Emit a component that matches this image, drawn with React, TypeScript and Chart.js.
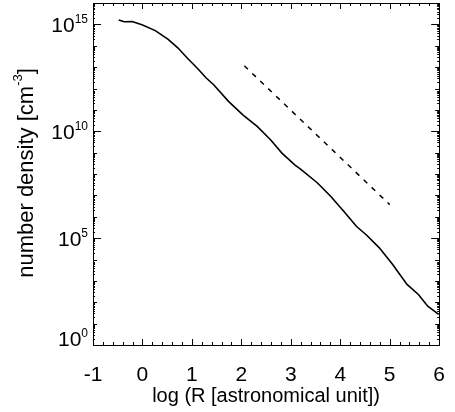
import React, { useEffect, useRef } from 'react';
import { Chart, registerables } from 'chart.js';

Chart.register(...registerables);

// log10 of radius in astronomical units
const radiusLog = [
  -0.48, -0.37, -0.21, -0.01, 0.26, 0.52, 0.72, 0.91, 1.11, 1.29, 1.44, 1.74, 2.03, 2.32,
  2.59, 2.82, 3.08, 3.21, 3.54, 3.81, 4.07, 4.33, 4.53, 4.79, 5.06, 5.35, 5.58, 5.77, 5.99,
];
// number density [cm^-3]
const density = [
  1.62e15, 1.32e15, 1.35e15, 9.5e14, 5.1e14, 2.0e14, 7.8e13, 2.6e13, 8.9e12, 3.1e12, 1.5e12,
  2.5e11, 5.9e10, 1.7e10, 4.0e9, 9.5e8, 2.7e8, 1.6e8, 3.8e7, 8.9e6, 1.8e6, 3.5e5, 1.4e5,
  3.5e4, 5.8e3, 680, 230, 65, 27,
];
// reference power-law slope (dashed)
const slopeRadiusLog = [2.06, 5.0];
const slopeDensity = [1.15e13, 3.7e6];

const xTickValues = [-1, 0, 1, 2, 3, 4, 5, 6];
const yLabelExponents = [0, 5, 10, 15];
const yDecades = [0, 1, 2, 3, 4, 5, 6, 7, 8, 9, 10, 11, 12, 13, 14, 15, 16];

const xTitle = 'log (R [astronomical unit])';
const yTitleMain = 'number density [cm';
const yTitleSup = '-3';
const yTitleEnd = ']';

const FONT = '"Liberation Sans", Arial, Helvetica, sans-serif';

const framePlugin = {
  id: 'idlFrame',
  afterDraw(chart: any) {
    const ctx: CanvasRenderingContext2D = chart.ctx;
    const { left, right, top, bottom } = chart.chartArea;
    const xs = chart.scales.x;
    const ys = chart.scales.y;
    ctx.save();
    ctx.strokeStyle = '#000';
    ctx.lineWidth = 1;
    ctx.beginPath();
    for (let i = 0; i < xTickValues.length; i++) {
      const v = xTickValues[i];
      const px = Math.round(xs.getPixelForValue(v)) + 0.5;
      ctx.moveTo(px, bottom);
      ctx.lineTo(px, bottom - 6);
      ctx.moveTo(px, top);
      ctx.lineTo(px, top + 6);
      if (i < xTickValues.length - 1) {
        const step = (xTickValues[i + 1] - v) / 5;
        for (let k = 1; k < 5; k++) {
          const m = Math.round(xs.getPixelForValue(v + k * step)) + 0.5;
          ctx.moveTo(m, bottom);
          ctx.lineTo(m, bottom - 3);
          ctx.moveTo(m, top);
          ctx.lineTo(m, top + 3);
        }
      }
    }
    for (let i = 0; i < yDecades.length; i++) {
      const e = yDecades[i];
      const py = Math.round(ys.getPixelForValue(Math.pow(10, e))) + 0.5;
      const len = yLabelExponents.includes(e) ? 8 : 4;
      ctx.moveTo(left, py);
      ctx.lineTo(left + len, py);
      ctx.moveTo(right, py);
      ctx.lineTo(right - len, py);
      if (i < yDecades.length - 1) {
        for (let k = 2; k < 10; k++) {
          const pm = Math.round(ys.getPixelForValue(k * Math.pow(10, e))) + 0.5;
          ctx.moveTo(left, pm);
          ctx.lineTo(left + 2, pm);
          ctx.moveTo(right, pm);
          ctx.lineTo(right - 2, pm);
        }
      }
    }
    ctx.stroke();

    // y tick labels with superscripts
    ctx.fillStyle = '#000';
    ctx.textAlign = 'left';
    ctx.textBaseline = 'alphabetic';
    for (const e of yLabelExponents) {
      let py = ys.getPixelForValue(Math.pow(10, e));
      if (e === 0) py -= 7;
      const sup = String(e);
      ctx.font = `12px ${FONT}`;
      const supW = ctx.measureText(sup).width;
      ctx.font = `21px ${FONT}`;
      const baseW = ctx.measureText('10').width;
      const rightEdge = left - 5;
      ctx.fillText('10', rightEdge - supW - baseW, py + 8);
      ctx.font = `12px ${FONT}`;
      ctx.fillText(sup, rightEdge - supW, py - 1);
    }

    // y title, rotated
    ctx.save();
    ctx.translate(33, (top + bottom) / 2 - 1);
    ctx.rotate(-Math.PI / 2);
    ctx.font = `22px ${FONT}`;
    const w1 = ctx.measureText(yTitleMain).width;
    const w3 = ctx.measureText(yTitleEnd).width;
    ctx.font = `13px ${FONT}`;
    const w2 = ctx.measureText(yTitleSup).width;
    const x0 = -(w1 + w2 + w3) / 2;
    ctx.font = `22px ${FONT}`;
    ctx.fillText(yTitleMain, x0, 0);
    ctx.fillText(yTitleEnd, x0 + w1 + w2, 0);
    ctx.font = `13px ${FONT}`;
    ctx.fillText(yTitleSup, x0 + w1, -11);
    ctx.restore();

    ctx.restore();
  },
};

export default function App() {
  const canvasRef = useRef<HTMLCanvasElement | null>(null);

  useEffect(() => {
    const canvas = canvasRef.current;
    if (!canvas) return;
    const solid = radiusLog.map((x, i) => ({ x, y: density[i] }));
    const dashed = slopeRadiusLog.map((x, i) => ({ x, y: slopeDensity[i] }));
    const chart = new Chart(canvas, {
      type: 'scatter',
      data: {
        datasets: [
          {
            data: solid,
            showLine: true,
            borderColor: '#000',
            borderWidth: 1.6,
            pointRadius: 0,
            tension: 0,
            xAxisID: 'x',
            yAxisID: 'y',
          },
          {
            data: dashed,
            showLine: true,
            borderColor: '#000',
            borderWidth: 1.5,
            borderDash: [5, 6],
            pointRadius: 0,
            xAxisID: 'x',
            yAxisID: 'y',
          },
        ],
      },
      options: {
        animation: false,
        responsive: false,
        events: [],
        layout: { padding: 0 },
        plugins: { legend: { display: false }, tooltip: { enabled: false } },
        scales: {
          x: {
            type: 'linear',
            position: 'bottom',
            min: -1,
            max: 6,
            afterBuildTicks: (scale: any) => {
              scale.ticks = xTickValues.map((v) => ({ value: v }));
            },
            afterFit: (scale: any) => {
              scale.height = 67;
            },
            ticks: {
              color: '#000',
              font: { family: FONT, size: 21 },
              padding: 10,
              maxRotation: 0,
              autoSkip: false,
            },
            grid: { display: false },
            border: { display: true, color: '#000', width: 1 },
            title: {
              display: true,
              text: xTitle,
              color: '#000',
              font: { family: FONT, size: 20 },
              padding: { top: 0, bottom: 4 },
            },
          },
          x2: {
            type: 'linear',
            position: 'top',
            min: -1,
            max: 6,
            afterFit: (scale: any) => {
              scale.height = 3;
            },
            ticks: { display: false },
            grid: { display: false },
            border: { display: true, color: '#000', width: 1 },
          },
          y: {
            type: 'logarithmic',
            position: 'left',
            min: 1,
            max: 1e16,
            afterFit: (scale: any) => {
              scale.width = 93;
            },
            ticks: { display: false },
            grid: { display: false },
            border: { display: true, color: '#000', width: 1 },
          },
          y2: {
            type: 'logarithmic',
            position: 'right',
            min: 1,
            max: 1e16,
            afterFit: (scale: any) => {
              scale.width = 7;
            },
            ticks: { display: false },
            grid: { display: false },
            border: { display: true, color: '#000', width: 1 },
          },
        },
      } as any,
      plugins: [framePlugin],
    });
    return () => chart.destroy();
  }, []);

  return (
    <div style={{ position: 'absolute', left: 0, top: 0, width: 455, height: 412, background: '#fff' }}>
      <canvas ref={canvasRef} width={455} height={412} style={{ display: 'block' }} />
    </div>
  );
}
